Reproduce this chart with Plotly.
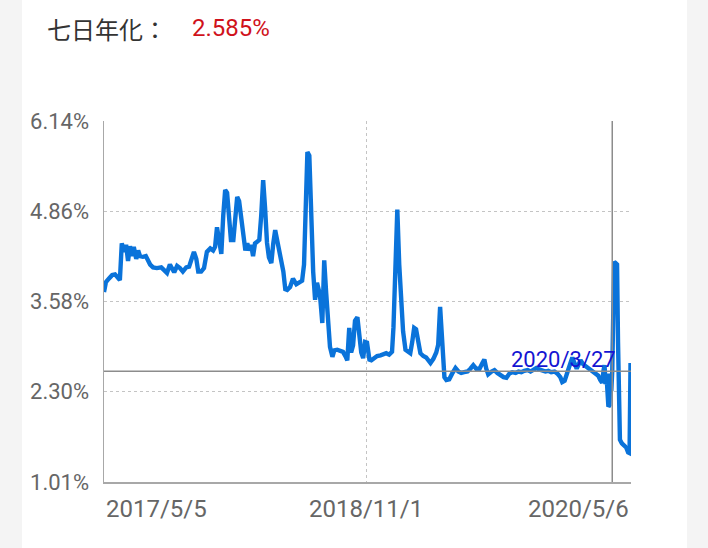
import plotly.graph_objects as go

dates = [
    "2017-05-05", "2017-05-09", "2017-05-15", "2017-05-22", "2017-05-28", "2017-06-03", "2017-06-07",
    "2017-06-11", "2017-06-16", "2017-06-20", "2017-06-24", "2017-06-28", "2017-07-02", "2017-07-06",
    "2017-07-11", "2017-07-15", "2017-07-19", "2017-07-25", "2017-07-31", "2017-08-09", "2017-08-15",
    "2017-08-23", "2017-09-01", "2017-09-07", "2017-09-13", "2017-09-19", "2017-09-24", "2017-09-28",
    "2017-10-04", "2017-10-10", "2017-10-16", "2017-10-23", "2017-10-29", "2017-11-04", "2017-11-08",
    "2017-11-13", "2017-11-17", "2017-11-23", "2017-11-29", "2017-12-05", "2017-12-12", "2017-12-18",
    "2017-12-22", "2017-12-26", "2017-12-30", "2018-01-04", "2018-01-08", "2018-01-12", "2018-01-16",
    "2018-01-20", "2018-01-24", "2018-01-29", "2018-02-02", "2018-02-06", "2018-02-10", "2018-02-14",
    "2018-02-18", "2018-02-23", "2018-02-27", "2018-03-03", "2018-03-07", "2018-03-11", "2018-03-15",
    "2018-03-19", "2018-03-24", "2018-03-28", "2018-04-01", "2018-04-05", "2018-04-09", "2018-04-13",
    "2018-04-18", "2018-04-22", "2018-04-26", "2018-04-30", "2018-05-04", "2018-05-08", "2018-05-13",
    "2018-05-17", "2018-05-21", "2018-05-27", "2018-06-02", "2018-06-09", "2018-06-15", "2018-06-21",
    "2018-06-25", "2018-06-29", "2018-07-02", "2018-07-06", "2018-07-10", "2018-07-14", "2018-07-18",
    "2018-07-22", "2018-07-27", "2018-07-29", "2018-08-02", "2018-08-06", "2018-08-10", "2018-08-14",
    "2018-08-18", "2018-08-23", "2018-08-27", "2018-09-02", "2018-09-08", "2018-09-14", "2018-09-19",
    "2018-09-23", "2018-09-27", "2018-10-01", "2018-10-05", "2018-10-09", "2018-10-14", "2018-10-18",
    "2018-10-22", "2018-10-26", "2018-10-30", "2018-11-03", "2018-11-08", "2018-11-12", "2018-11-18",
    "2018-11-24", "2018-12-01", "2018-12-07", "2018-12-13", "2018-12-19", "2018-12-25", "2018-12-28",
    "2019-01-01", "2019-01-05", "2019-01-09", "2019-01-13", "2019-01-17", "2019-01-22", "2019-01-28",
    "2019-02-01", "2019-02-05", "2019-02-09", "2019-02-13", "2019-02-18", "2019-02-22", "2019-02-28",
    "2019-03-06", "2019-03-15", "2019-03-21", "2019-03-27", "2019-03-31", "2019-04-04", "2019-04-09",
    "2019-04-13", "2019-04-17", "2019-04-23", "2019-04-29", "2019-05-06", "2019-05-12", "2019-05-18",
    "2019-05-24", "2019-05-31", "2019-06-06", "2019-06-12", "2019-06-18", "2019-06-25", "2019-07-01",
    "2019-07-05", "2019-07-09", "2019-07-13", "2019-07-20", "2019-07-26", "2019-08-01", "2019-08-07",
    "2019-08-14", "2019-08-20", "2019-08-26", "2019-09-01", "2019-09-08", "2019-09-14", "2019-09-20",
    "2019-09-26", "2019-10-03", "2019-10-09", "2019-10-15", "2019-10-21", "2019-10-27", "2019-11-03",
    "2019-11-09", "2019-11-15", "2019-11-21", "2019-11-28", "2019-12-04", "2019-12-10", "2019-12-14",
    "2019-12-19", "2019-12-23", "2019-12-27", "2019-12-31", "2020-01-04", "2020-01-08", "2020-01-13",
    "2020-01-17", "2020-01-21", "2020-01-27", "2020-02-02", "2020-02-09", "2020-02-15", "2020-02-21",
    "2020-02-27", "2020-03-02", "2020-03-06", "2020-03-09", "2020-03-11", "2020-03-13", "2020-03-15",
    "2020-03-17", "2020-03-19", "2020-03-21", "2020-03-23", "2020-03-25", "2020-03-27", "2020-03-29",
    "2020-03-31", "2020-04-03", "2020-04-06", "2020-04-08", "2020-04-10", "2020-04-12", "2020-04-16",
    "2020-04-20", "2020-04-25", "2020-04-29", "2020-05-02", "2020-05-04",
]

yields = [
    3.71, 3.85, 3.90, 3.95, 3.96, 3.91, 3.88,
    4.40, 4.28, 4.38, 4.15, 4.36, 4.22, 4.35,
    4.18, 4.30, 4.22, 4.21, 4.22, 4.10, 4.06,
    4.05, 4.06, 4.02, 3.98, 4.10, 4.05, 3.99,
    4.08, 4.05, 4.00, 4.06, 4.07, 4.20, 4.28,
    4.18, 4.00, 4.00, 4.05, 4.28, 4.33, 4.30,
    4.35, 4.63, 4.45, 4.25, 4.80, 5.16, 5.12,
    4.80, 4.45, 4.45, 4.70, 5.06, 5.00, 4.75,
    4.50, 4.30, 4.40, 4.30, 4.38, 4.22, 4.40,
    4.42, 4.45, 4.80, 5.30, 4.90, 4.41, 4.20,
    4.12, 4.40, 4.59, 4.45, 4.30, 4.20, 4.00,
    3.75, 3.74, 3.78, 3.90, 3.82, 3.85, 3.87,
    4.10, 5.20, 5.70, 5.65, 4.60, 4.00, 3.60,
    3.84, 3.70, 3.60, 3.27, 4.16, 3.70, 3.30,
    2.93, 2.79, 2.88, 2.89, 2.88, 2.86, 2.80,
    2.74, 3.20, 2.85, 2.95, 3.30, 3.35, 3.00,
    2.85, 2.77, 3.00, 2.99, 2.75, 2.74, 2.78,
    2.80, 2.81, 2.83, 2.84, 2.82, 2.86, 3.21,
    4.00, 4.88, 4.10, 3.60, 3.15, 2.89, 2.85,
    2.84, 3.00, 3.20, 3.18, 2.95, 2.84, 2.80,
    2.78, 2.70, 2.76, 2.85, 2.96, 3.50, 2.95,
    2.50, 2.46, 2.47, 2.55, 2.63, 2.58, 2.56,
    2.57, 2.58, 2.62, 2.67, 2.62, 2.62, 2.70,
    2.75, 2.62, 2.54, 2.58, 2.60, 2.56, 2.53,
    2.50, 2.49, 2.55, 2.57, 2.56, 2.58, 2.57,
    2.59, 2.60, 2.58, 2.60, 2.63, 2.61, 2.59,
    2.58, 2.59, 2.57, 2.58, 2.55, 2.50, 2.43,
    2.45, 2.55, 2.62, 2.70, 2.78, 2.72, 2.62,
    2.68, 2.74, 2.68, 2.65, 2.60, 2.57, 2.55,
    2.52, 2.46, 2.42, 2.60, 2.67, 2.40, 2.55,
    2.30, 2.08, 2.10, 2.55, 2.30, 2.585, 3.50,
    4.14, 4.12, 4.10, 3.00, 2.00, 1.61, 1.56,
    1.54, 1.50, 1.43, 1.42, 2.70,
]

y_tick_vals = [1.01, 2.30, 3.58, 4.86, 6.14]
y_tick_text = ["1.01%", "2.30%", "3.58%", "4.86%", "6.14%"]
x_range = ["2017-05-05", "2020-05-05"]
x_grid_dates = ["2017-05-05", "2018-11-01", "2020-05-05"]
x_label_text = ["2017/5/5", "2018/11/1", "2020/5/6"]
x_mid_label_date = "2018-11-01"
cursor_date = "2020-03-27"
cursor_value = 2.585
cursor_label = "2020/3/27"
title_label = "七日年化："
title_value = "2.585%"

W, H = 708, 548
L, R, T, B = 104, 631, 121, 482
ML, MR, MT, MB = L, W - R, T, H - B
pw, ph = R - L, B - T

def px(xp):
    return (xp - L) / pw

def py(yp):
    return (B - yp) / ph

LINE_COLOR = "#0a73da"
GRID = "#c4c4c4"
AXIS = "#a8a8a8"
LABEL = "#666666"
FONT = "Roboto, 'Noto Sans', sans-serif"
DASH = "3px,3px"

fig = go.Figure()
fig.add_trace(go.Scatter(
    x=dates, y=yields, mode="lines",
    line=dict(color=LINE_COLOR, width=4.4),
    hoverinfo="skip", showlegend=False,
))

shapes = [
    dict(type="rect", xref="paper", yref="paper", x0=px(22), x1=px(687), y0=py(H), y1=py(0),
         fillcolor="white", line=dict(width=0), layer="below"),
    dict(type="line", xref="paper", yref="y", x0=0, x1=1, y0=cursor_value, y1=cursor_value,
         line=dict(color="#8c8c8c", width=1.5)),
    dict(type="line", xref="x", yref="paper", x0=cursor_date, x1=cursor_date, y0=0, y1=1,
         line=dict(color="#8c8c8c", width=1.5)),
]

annotations = [
    dict(xref="paper", yref="paper", x=px(45), y=py(28), xanchor="left", yanchor="middle",
         text=title_label, showarrow=False,
         font=dict(family="'Noto Sans CJK JP', 'Noto Sans CJK SC', sans-serif", size=24, color="#333333")),
    dict(xref="paper", yref="paper", x=px(190), y=py(28), xanchor="left", yanchor="middle",
         text=title_value, showarrow=False,
         font=dict(family=FONT, size=24, color="#d0121b")),
    dict(xref="paper", yref="paper", x=0, y=py(509), xanchor="left", yanchor="middle",
         text=x_label_text[0], showarrow=False, font=dict(family=FONT, size=24, color=LABEL)),
    dict(xref="x", yref="paper", x=x_mid_label_date, y=py(509), xanchor="center", yanchor="middle",
         text=x_label_text[1], showarrow=False, font=dict(family=FONT, size=24, color=LABEL)),
    dict(xref="paper", yref="paper", x=1, y=py(509), xanchor="right", yanchor="middle",
         text=x_label_text[2], showarrow=False, font=dict(family=FONT, size=24, color=LABEL)),
    dict(xref="x", yref="y", x=cursor_date, y=cursor_value, xanchor="right", yanchor="bottom",
         xshift=6, yshift=-3, text=cursor_label, showarrow=False,
         font=dict(family=FONT, size=22, color="#1414d2")),
]

fig.update_layout(
    width=W, height=H,
    margin=dict(l=ML, r=MR, t=MT, b=MB, pad=0),
    paper_bgcolor="#f4f4f4",
    plot_bgcolor="white",
    shapes=shapes,
    annotations=annotations,
    showlegend=False,
    xaxis=dict(
        type="date", range=x_range,
        tickvals=x_grid_dates, showticklabels=False, ticks="",
        showgrid=True, gridcolor=GRID, griddash=DASH, gridwidth=1,
        showline=True, linecolor=AXIS, linewidth=1.5, mirror=False,
        zeroline=False, fixedrange=True,
    ),
    yaxis=dict(
        range=[y_tick_vals[0], y_tick_vals[-1]],
        tickvals=y_tick_vals, ticktext=y_tick_text,
        tickfont=dict(family=FONT, size=22, color=LABEL),
        ticks="", ticklabelstandoff=9,
        showgrid=True, gridcolor=GRID, griddash=DASH, gridwidth=1,
        showline=True, linecolor=AXIS, linewidth=1.5, mirror=False,
        zeroline=False, fixedrange=True,
    ),
)

fig.write_html(
    "out.html",
    config={"displayModeBar": False, "staticPlot": True},
    post_script="document.body.style.margin='0';document.body.style.background='#f4f4f4';",
)
